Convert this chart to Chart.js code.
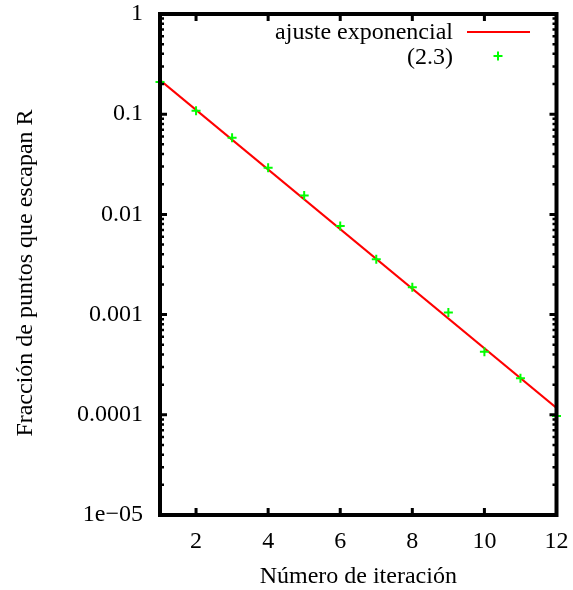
<!DOCTYPE html>
<html>
<head>
<meta charset="utf-8">
<script src="https://cdn.jsdelivr.net/npm/chart.js@4.4.1/dist/chart.umd.min.js"></script>
<style>
  html, body { margin: 0; padding: 0; background: #fff; }
  #wrap { width: 573px; height: 590px; }
</style>
</head>
<body>
<div id="wrap"><canvas id="escapeChart" width="573" height="590"></canvas></div>
<script>
// Data
const iterations = [1, 2, 3, 4, 5, 6, 7, 8, 9, 10, 11, 12];
const escapeFraction = [0.21, 0.108, 0.0582, 0.0292, 0.0154, 0.00766, 0.00356, 0.00187, 0.00105, 0.000426, 0.000231, 0.0000973];

// exponential fit (straight line on log axis) end points
const fitX = [1, 12];
const fitY = [0.219, 0.000117];

// ticks
const xTickValues = [2, 4, 6, 8, 10, 12];
const yTickValues = [1e-5, 1e-4, 1e-3, 1e-2, 1e-1, 1];
const yTickLabels = ["1e\u221205", "0.0001", "0.001", "0.01", "0.1", "1"];
const yMinorSteps = [2, 3, 4, 5, 6, 7, 8, 9];

const seriesLabels = ["ajuste exponencial", "(2.3)"];
const xTitle = "Número de iteración";
const yTitle = "Fracción de puntos que escapan R";

const FONT = "24px 'Liberation Serif', 'DejaVu Serif', serif";
const RED = "#ff0000";
const GREEN = "#00ff00";

/**
 * gnuplot-like frame: inward ticks, thick border, titles and key
 */
const framePlugin = {
  id: "frame",
  afterDatasetsDraw(chart) {
    const ctx = chart.ctx;
    const area = chart.chartArea;
    const xs = chart.scales.x;
    const ys = chart.scales.y;

    ctx.save();
    ctx.strokeStyle = "#000";
    ctx.lineCap = "butt";

    // x ticks (bottom and top)
    ctx.lineWidth = 3;
    xTickValues.forEach((v) => {
      const px = xs.getPixelForValue(v);
      if (px > area.right - 3) return;
      ctx.beginPath();
      ctx.moveTo(px, area.bottom);
      ctx.lineTo(px, area.bottom - 7);
      ctx.moveTo(px, area.top);
      ctx.lineTo(px, area.top + 7);
      ctx.stroke();
    });

    // y major ticks (left and right)
    yTickValues.forEach((v) => {
      const py = ys.getPixelForValue(v);
      ctx.beginPath();
      ctx.moveTo(area.left, py);
      ctx.lineTo(area.left + 7, py);
      ctx.moveTo(area.right, py);
      ctx.lineTo(area.right - 7, py);
      ctx.stroke();
    });

    // y minor ticks
    ctx.lineWidth = 2.5;
    yTickValues.slice(0, -1).forEach((d) => {
      yMinorSteps.forEach((m) => {
        const py = ys.getPixelForValue(d * m);
        ctx.beginPath();
        ctx.moveTo(area.left, py);
        ctx.lineTo(area.left + 4, py);
        ctx.moveTo(area.right, py);
        ctx.lineTo(area.right - 4, py);
        ctx.stroke();
      });
    });

    // border
    ctx.lineWidth = 4;
    ctx.strokeRect(area.left, area.top, area.right - area.left, area.bottom - area.top);

    // axis titles
    ctx.fillStyle = "#000";
    ctx.font = FONT;
    ctx.textAlign = "center";
    ctx.textBaseline = "middle";
    ctx.fillText(xTitle, (area.left + area.right) / 2, 577);

    ctx.save();
    ctx.translate(26, 273);
    ctx.rotate(-Math.PI / 2);
    ctx.fillText(yTitle, 0, 0);
    ctx.restore();

    // key
    ctx.textAlign = "right";
    ctx.textBaseline = "alphabetic";
    ctx.fillText(seriesLabels[0], 453, 39);
    ctx.fillText(seriesLabels[1], 453, 64);

    ctx.strokeStyle = RED;
    ctx.lineWidth = 2;
    ctx.beginPath();
    ctx.moveTo(467, 32);
    ctx.lineTo(530, 32);
    ctx.stroke();

    ctx.strokeStyle = GREEN;
    ctx.lineWidth = 2;
    ctx.beginPath();
    ctx.moveTo(498 - 4.5, 56);
    ctx.lineTo(498 + 4.5, 56);
    ctx.moveTo(498, 56 - 4.5);
    ctx.lineTo(498, 56 + 4.5);
    ctx.stroke();

    ctx.restore();
  },
};

const ctx = document.getElementById("escapeChart").getContext("2d");
const escapeChart = new Chart(ctx, {
  type: "scatter",
  data: {
    datasets: [
      {
        label: seriesLabels[1],
        data: iterations.map((x, i) => ({ x: x, y: escapeFraction[i] })),
        pointStyle: "cross",
        pointRadius: 4.5,
        pointBorderWidth: 2,
        borderColor: GREEN,
        backgroundColor: GREEN,
        showLine: false,
        clip: false,
        order: 0,
      },
      {
        label: seriesLabels[0],
        data: fitX.map((x, i) => ({ x: x, y: fitY[i] })),
        showLine: true,
        borderColor: RED,
        borderWidth: 2,
        pointRadius: 0,
        fill: false,
        order: 1,
      },
    ],
  },
  options: {
    responsive: false,
    animation: false,
    layout: {
      autoPadding: false,
      padding: { top: 14, right: 16.5, left: 0, bottom: 0 },
    },
    plugins: {
      legend: { display: false },
      tooltip: { enabled: false },
    },
    scales: {
      x: {
        type: "linear",
        min: 1,
        max: 12,
        grid: { display: false, drawTicks: false },
        border: { display: false },
        afterBuildTicks: (scale) => {
          scale.ticks = xTickValues.map((v) => ({ value: v }));
        },
        afterFit: (scale) => {
          scale.height = 75;
          scale.paddingLeft = 0;
          scale.paddingRight = 0;
        },
        ticks: {
          color: "#000",
          padding: 12,
          maxRotation: 0,
          autoSkip: false,
          font: { family: "'Liberation Serif', serif", size: 24 },
          callback: (v) => String(v),
        },
      },
      y: {
        type: "logarithmic",
        min: 1e-5,
        max: 1,
        grid: { display: false, drawTicks: false },
        border: { display: false },
        afterBuildTicks: (scale) => {
          scale.ticks = yTickValues.map((v) => ({ value: v, major: true }));
        },
        afterFit: (scale) => {
          scale.width = 160;
          scale.paddingTop = 0;
          scale.paddingBottom = 0;
        },
        ticks: {
          color: "#000",
          padding: 17,
          autoSkip: false,
          font: { family: "'Liberation Serif', serif", size: 24 },
          callback: (v) => {
            const idx = yTickValues.findIndex((t) => Math.abs(Math.log10(t) - Math.log10(v)) < 1e-6);
            return idx >= 0 ? yTickLabels[idx] : "";
          },
        },
      },
    },
  },
  plugins: [framePlugin],
});
</script>
</body>
</html>
